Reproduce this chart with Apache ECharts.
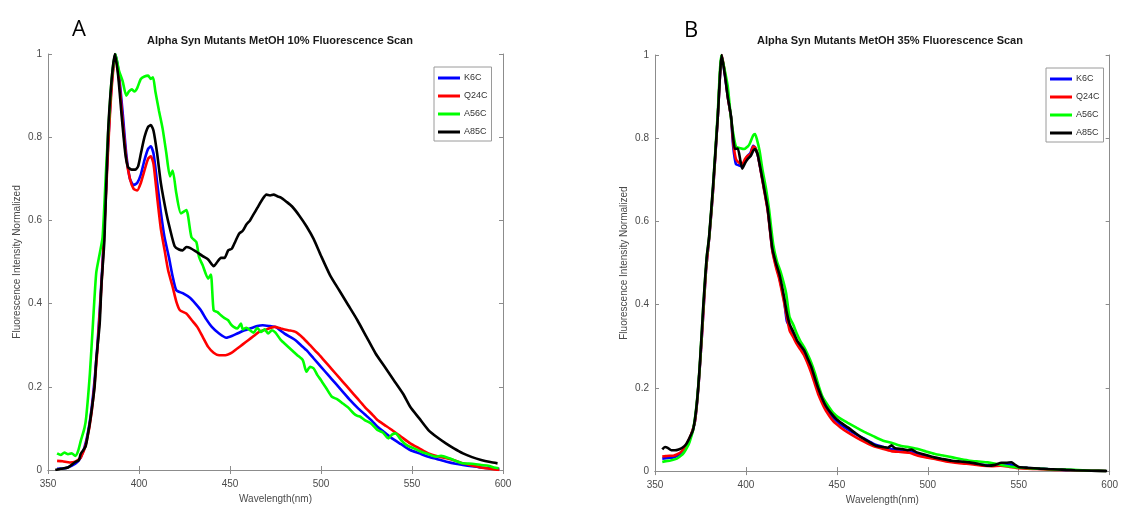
<!DOCTYPE html>
<html>
<head>
<meta charset="utf-8">
<script src="https://cdn.jsdelivr.net/npm/echarts@6/dist/echarts.min.js"></script>
<style>html,body{margin:0;padding:0;background:#fff}#c{width:1121px;height:510px}</style>
</head>
<body>
<div id="c"></div>
<script>
const seriesNames = ['K6C', 'Q24C', 'A56C', 'A85C'];
const seriesColors = ['#0000ff', '#ff0000', '#00ff00', '#000000'];
const xTicks = [350, 400, 450, 500, 550, 600];
const yTicks = [0, 0.2, 0.4, 0.6, 0.8, 1];
const titleA = 'Alpha Syn Mutants MetOH 10% Fluorescence Scan';
const titleB = 'Alpha Syn Mutants MetOH 35% Fluorescence Scan';
const xName = 'Wavelength(nm)';
const yName = 'Fluorescence Intensity Normalized';

// Panel A (MetOH 10%) : [wavelength nm, normalized intensity]
const a_K6C = [[355,0.003],[360,0.005],[365,0.015],[368,0.03],[371,0.07],[374,0.15],[377,0.29],[380,0.5],[383,0.78],[385,0.93],[387,1.0],[389,0.95],[391,0.86],[393,0.76],[395,0.7],[397,0.685],[399,0.69],[401,0.71],[403,0.745],[405,0.772],[406.5,0.778],[408,0.76],[410,0.69],[412,0.62],[414,0.56],[416.5,0.51],[418.5,0.465],[420.5,0.432],[424,0.425],[428,0.414],[431,0.4],[434,0.384],[437,0.362],[440,0.344],[444,0.328],[448,0.318],[451,0.322],[454,0.328],[458,0.336],[461,0.34],[465,0.346],[468,0.348],[472,0.346],[475,0.344],[478,0.334],[480,0.328],[483,0.32],[486,0.312],[489,0.3],[492,0.288],[496,0.268],[500,0.248],[504,0.228],[508,0.208],[512,0.188],[516,0.168],[520,0.15],[524,0.134],[528,0.118],[531,0.104],[535,0.09],[539,0.076],[544,0.062],[549,0.048],[554,0.04],[559,0.032],[564,0.026],[569,0.02],[574,0.015],[578,0.012],[583,0.009],[588,0.006],[593,0.004],[598,0.003]];
const a_Q24C = [[355,0.022],[358,0.021],[362,0.018],[365,0.02],[368,0.03],[371,0.065],[374,0.14],[377,0.28],[380,0.49],[383,0.77],[385,0.92],[387,1.0],[389,0.94],[391,0.84],[393,0.75],[395,0.7],[397,0.676],[399,0.672],[401,0.69],[403,0.72],[405,0.748],[406.5,0.754],[408,0.735],[410,0.655],[412,0.58],[414,0.53],[416,0.48],[418.5,0.44],[420.5,0.405],[422.5,0.384],[426,0.376],[429,0.36],[432,0.344],[435,0.32],[438,0.296],[441,0.282],[444,0.276],[447.5,0.276],[451,0.282],[454,0.292],[457,0.302],[460,0.312],[463,0.322],[466,0.332],[470,0.338],[474.5,0.344],[478,0.34],[482,0.336],[486,0.332],[490,0.318],[494,0.3],[497,0.286],[500,0.272],[504,0.252],[508,0.232],[512,0.212],[516,0.192],[520,0.172],[524,0.152],[528,0.134],[531,0.12],[535,0.108],[539,0.096],[544,0.08],[549,0.064],[554,0.052],[559,0.04],[564,0.033],[569,0.028],[574,0.022],[578,0.016],[583,0.011],[588,0.006],[593,0.003],[598,0.0]];
const a_A56C = [[355,0.04],[357,0.036],[359,0.042],[361,0.038],[363,0.04],[365,0.034],[366.5,0.045],[368,0.07],[370,0.1],[371,0.127],[373,0.231],[374.7,0.352],[376.5,0.474],[378.4,0.52],[380,0.56],[382,0.73],[384.8,0.93],[387,1.0],[389,0.96],[391,0.935],[393,0.9],[394.5,0.91],[396,0.915],[397.5,0.91],[399,0.918],[401,0.94],[403,0.946],[405,0.948],[406.5,0.94],[407.7,0.944],[409,0.91],[411,0.863],[413,0.82],[415,0.762],[417,0.706],[418.5,0.72],[420.5,0.665],[423,0.617],[426,0.625],[428.8,0.56],[431.5,0.548],[433,0.512],[435,0.492],[438,0.46],[439.5,0.47],[441,0.384],[443,0.38],[445,0.372],[447,0.365],[449,0.36],[450.5,0.35],[452,0.344],[454,0.34],[456,0.352],[457,0.338],[459,0.342],[461,0.336],[463,0.33],[465,0.342],[467,0.332],[469,0.338],[471,0.328],[473,0.336],[475,0.33],[478,0.312],[481,0.3],[484,0.288],[487,0.276],[490,0.264],[492,0.236],[494,0.248],[496,0.244],[498,0.228],[500,0.216],[503,0.196],[506,0.176],[509,0.17],[512,0.16],[515,0.15],[518,0.136],[520,0.13],[521.6,0.128],[524,0.12],[527.5,0.112],[531,0.096],[534,0.09],[537,0.076],[539,0.085],[541,0.088],[544,0.072],[547,0.06],[551,0.052],[555,0.044],[559,0.038],[563,0.032],[566,0.034],[570.6,0.028],[574,0.022],[578,0.016],[583,0.015],[588,0.012],[592,0.01],[595,0.006],[597.6,0.004]];
const a_A85C = [[354,0.0],[357,0.003],[361,0.006],[364.6,0.018],[367,0.024],[368,0.039],[370.6,0.056],[372,0.087],[373.5,0.128],[375.6,0.2],[376.5,0.264],[378.4,0.352],[379.4,0.448],[381,0.553],[383,0.81],[385,0.94],[386.7,1.0],[388.5,0.95],[390.5,0.85],[392.5,0.76],[394,0.728],[396,0.722],[398,0.722],[399.5,0.73],[401,0.76],[403,0.8],[405,0.825],[406.5,0.829],[408,0.815],[410,0.76],[412,0.69],[415,0.618],[417,0.58],[419.6,0.538],[422,0.53],[424,0.528],[426,0.536],[428,0.534],[431,0.526],[435,0.514],[438,0.506],[441,0.49],[443,0.5],[445,0.51],[447,0.51],[449,0.528],[451,0.532],[453,0.55],[455,0.568],[457,0.575],[459,0.59],[461,0.6],[463,0.615],[465,0.63],[468,0.652],[470,0.662],[472,0.66],[474,0.662],[476,0.658],[478,0.655],[481,0.645],[484,0.634],[488,0.612],[492,0.586],[496,0.555],[500,0.515],[505,0.468],[510,0.432],[515,0.396],[520,0.36],[525,0.32],[530,0.28],[535,0.248],[540,0.216],[545,0.184],[549,0.152],[554,0.124],[559,0.096],[564,0.078],[568.6,0.064],[573,0.052],[578,0.04],[583,0.031],[588,0.024],[593,0.019],[597,0.016]];

// Panel B (MetOH 35%)
const b_K6C = [[354,0.03],[356,0.031],[358,0.032],[360,0.033],[362,0.036],[364,0.042],[366,0.052],[368,0.066],[370,0.088],[372,0.12],[374,0.21],[376,0.34],[378,0.48],[380,0.57],[382,0.68],[384.5,0.85],[386.7,1.0],[388.5,0.95],[390,0.9],[391.8,0.85],[393,0.78],[394.5,0.738],[396,0.735],[397.5,0.733],[399,0.742],[401,0.758],[402.5,0.765],[404,0.782],[405,0.778],[406.5,0.76],[408,0.726],[410,0.678],[412,0.628],[414.5,0.532],[416.5,0.495],[418.4,0.465],[421,0.41],[422.5,0.36],[424,0.348],[426,0.33],[428,0.31],[430,0.298],[432,0.284],[434,0.265],[436,0.244],[438,0.216],[440,0.19],[442,0.168],[444,0.15],[448,0.128],[452,0.112],[456,0.1],[461,0.087],[465.7,0.076],[470,0.066],[475.5,0.058],[480,0.053],[485,0.05],[490,0.048],[494.6,0.042],[500,0.036],[505,0.031],[510,0.026],[515,0.023],[520,0.02],[525,0.018],[530,0.015],[535,0.013],[540,0.016],[545,0.016],[550,0.009],[560,0.006],[570,0.004],[580,0.002],[590,0.001],[598,0.0]];
const b_Q24C = [[354,0.035],[356,0.036],[358,0.037],[360,0.037],[362,0.04],[364,0.045],[366,0.055],[368,0.07],[370,0.09],[372,0.12],[374,0.21],[376,0.34],[378,0.48],[380,0.57],[382,0.68],[384.5,0.85],[386.7,1.0],[388.5,0.955],[390,0.9],[391.8,0.85],[393,0.79],[394.5,0.75],[396,0.742],[398,0.738],[399.5,0.75],[401,0.758],[402.5,0.762],[404,0.78],[405,0.778],[406.5,0.76],[408,0.725],[410,0.675],[412,0.625],[414.5,0.53],[416.5,0.49],[418.4,0.46],[421,0.405],[424,0.338],[426,0.322],[428,0.305],[430,0.292],[432,0.278],[434,0.258],[436,0.235],[438,0.208],[440,0.182],[442,0.162],[444,0.145],[448,0.12],[452,0.105],[456,0.093],[461,0.08],[465.7,0.069],[470,0.06],[475.5,0.053],[480,0.048],[485,0.046],[490,0.044],[494.6,0.037],[500,0.032],[505,0.028],[510,0.023],[515,0.02],[520,0.018],[525,0.016],[530,0.013],[535,0.012],[540,0.013],[545,0.01],[550,0.007],[560,0.005],[570,0.003],[580,0.002],[590,0.001],[598,0.0]];
const b_A56C = [[354,0.022],[356,0.024],[358,0.025],[360,0.027],[362,0.03],[364,0.036],[366,0.045],[368,0.06],[369,0.07],[371,0.1],[373,0.165],[374.7,0.26],[376.6,0.4],[378.4,0.513],[379.7,0.56],[382,0.69],[384.5,0.86],[386.5,1.0],[388.5,0.96],[390,0.925],[391.5,0.86],[392.7,0.82],[394.5,0.78],[397,0.776],[399,0.774],[401,0.78],[402,0.786],[404,0.807],[405,0.81],[406,0.798],[407.5,0.77],[409,0.727],[411,0.68],[412.7,0.63],[415,0.545],[417,0.505],[419,0.48],[422,0.43],[424,0.37],[426,0.352],[428,0.33],[430,0.312],[432,0.298],[434,0.28],[436,0.26],[438,0.235],[440,0.205],[442,0.18],[444,0.165],[448,0.14],[452,0.126],[456,0.116],[461,0.104],[465.7,0.093],[470,0.084],[475.5,0.073],[480,0.068],[485,0.061],[490,0.057],[494.6,0.053],[499,0.047],[504,0.041],[509,0.037],[513.6,0.033],[518,0.029],[523,0.025],[528,0.023],[533,0.021],[538,0.017],[542.6,0.013],[547,0.01],[552,0.008],[560,0.006],[570,0.004],[580,0.003],[590,0.001],[598,0.0]];
const b_A85C = [[354,0.052],[355.5,0.058],[357,0.056],[359,0.05],[361,0.05],[363,0.052],[365,0.056],[367,0.064],[369,0.08],[371,0.1],[373,0.163],[374.7,0.259],[376.6,0.4],[378.4,0.513],[379.7,0.56],[382,0.69],[384.5,0.85],[386.7,1.0],[388.5,0.95],[390,0.9],[391.8,0.853],[393,0.8],[394,0.774],[395.5,0.775],[397,0.745],[398,0.727],[399.5,0.74],[401,0.75],[402.7,0.758],[404,0.77],[405,0.774],[406.5,0.76],[408,0.727],[410,0.68],[412,0.63],[414.5,0.536],[416.5,0.5],[418.4,0.473],[421,0.418],[422.5,0.38],[424,0.354],[426,0.335],[428,0.315],[430,0.302],[432,0.29],[434,0.27],[436,0.25],[438,0.222],[440,0.196],[442,0.174],[444,0.156],[447,0.138],[450,0.124],[453,0.114],[456,0.105],[460,0.092],[463.5,0.081],[467,0.072],[471.5,0.061],[475,0.058],[478,0.056],[480,0.062],[482,0.055],[486,0.053],[489,0.05],[491,0.052],[494,0.045],[498,0.04],[503.5,0.033],[508,0.029],[513,0.025],[518,0.023],[523,0.021],[528,0.017],[533,0.013],[537,0.015],[540.5,0.02],[543,0.02],[546,0.021],[548,0.015],[550,0.01],[555,0.008],[561.8,0.006],[566,0.005],[571.5,0.004],[576,0.003],[581,0.002],[590,0.001],[598.6,0.0]];

const panelA = [a_K6C, a_Q24C, a_A56C, a_A85C];
const panelB = [b_K6C, b_Q24C, b_A56C, b_A85C];

const chart = echarts.init(document.getElementById('c'), null, {renderer: 'canvas'});
const FONT = 'Liberation Sans';
const axisGray = '#8c8c8c';
const labelGray = '#4a4a4a';

function xAxisFor(gi, primary) {
  return {
    type: 'value', gridIndex: gi, min: xTicks[0], max: xTicks[xTicks.length - 1], interval: 50,
    position: primary ? 'bottom' : 'top',
    name: primary ? xName : '', nameLocation: 'middle', nameGap: gi === 0 ? 21 : 23,
    nameTextStyle: {fontFamily: FONT, fontSize: 10, color: labelGray},
    axisLine: {show: true, lineStyle: {color: axisGray, width: 1}},
    axisTick: {show: true, inside: true, length: 4, lineStyle: {color: axisGray}},
    axisLabel: {show: primary, margin: 9, fontFamily: FONT, fontSize: 10, color: labelGray},
    splitLine: {show: false}
  };
}
function yAxisFor(gi, primary) {
  return {
    type: 'value', gridIndex: gi, min: yTicks[0], max: yTicks[yTicks.length - 1], interval: 0.2,
    position: primary ? 'left' : 'right',
    name: primary ? yName : '', nameLocation: 'middle', nameGap: 26, nameRotate: 90,
    nameTextStyle: {fontFamily: FONT, fontSize: 10, color: labelGray},
    axisLine: {show: true, lineStyle: {color: axisGray, width: 1}},
    axisTick: {show: true, inside: true, length: 4, lineStyle: {color: axisGray}},
    axisLabel: {show: primary, margin: 6, fontFamily: FONT, fontSize: 10, color: labelGray},
    splitLine: {show: false}
  };
}

const series = [];
[panelA, panelB].forEach((panel, gi) => {
  panel.forEach((data, i) => {
    series.push({
      type: 'line', name: seriesNames[i], data: data,
      xAxisIndex: gi, yAxisIndex: gi,
      showSymbol: false, symbol: 'none', smooth: 0.2,
      lineStyle: {color: seriesColors[i], width: 2.6},
      itemStyle: {color: seriesColors[i]},
      animation: false, z: 2 + i
    });
  });
});

function legendAt(left, top) {
  return {
    orient: 'vertical', left: left, top: top,
    data: seriesNames, icon: 'rect', itemWidth: 22, itemHeight: 3, itemGap: 8,
    padding: [6, 4, 4, 4], backgroundColor: '#fff', borderColor: '#9a9a9a', borderWidth: 1, borderRadius: 0,
    textStyle: {fontFamily: FONT, fontSize: 9, color: '#333', lineHeight: 10, padding: [0, 0, 0, -1]},
    selectedMode: false
  };
}

chart.setOption({
  animation: false,
  title: [
    {text: titleA, left: 275, top: 30, textAlign: 'center', textStyle: {fontFamily: FONT, fontSize: 11, fontWeight: 'bold', color: '#1a1a1a'}},
    {text: titleB, left: 885, top: 30, textAlign: 'center', textStyle: {fontFamily: FONT, fontSize: 11, fontWeight: 'bold', color: '#1a1a1a'}},
    {text: 'A', left: 67, top: 14, textStyle: {fontFamily: 'Open Sans', fontSize: 22, fontWeight: 'normal', color: '#000'}},
    {text: 'B', left: 679, top: 15, textStyle: {fontFamily: 'Open Sans', fontSize: 22, fontWeight: 'normal', color: '#000'}}
  ],
  legend: [legendAt(434, 67), legendAt(1046, 68)],
  grid: [
    {left: 48, right: 1121 - 503, top: 54, bottom: 510 - 470, containLabel: false},
    {left: 655, right: 1121 - 1113, top: 55, bottom: 510 - 476, containLabel: false}
  ],
  xAxis: [xAxisFor(0, true), xAxisFor(1, true), xAxisFor(0, false), xAxisFor(1, false)],
  yAxis: [yAxisFor(0, true), yAxisFor(1, true), yAxisFor(0, false), yAxisFor(1, false)],
  series: series
});
</script>
</body>
</html>
